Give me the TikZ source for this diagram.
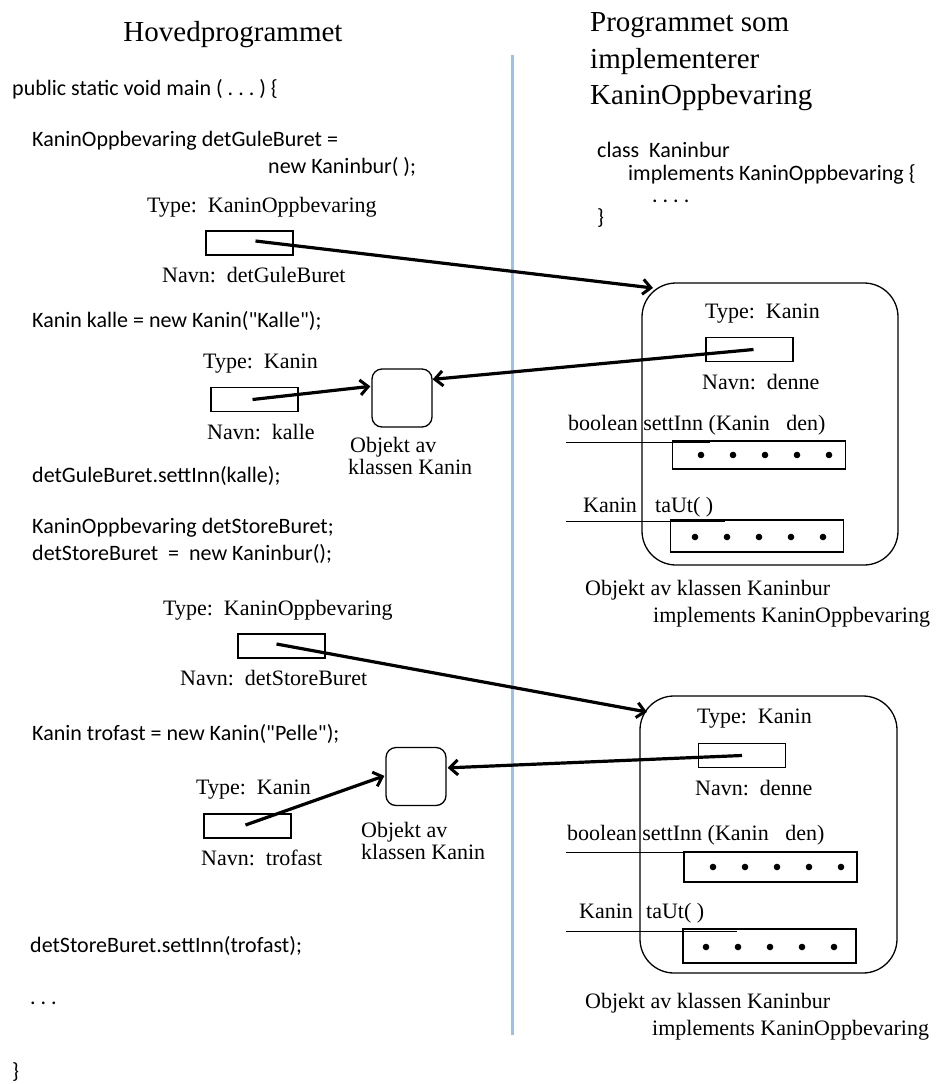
\documentclass[tikz,border=0pt]{standalone}
\usepackage{fontspec}
\setmainfont{Liberation Serif}
\newfontfamily\codefont{Carlito}
\usetikzlibrary{arrows.meta,calc}
\definecolor{divider}{RGB}{160,190,230}
\tikzset{
  code/.style={font=\codefont\frenchspacing\fontsize{22}{26}\selectfont, anchor=base west, inner sep=0pt},
  lbl/.style={font=\frenchspacing\fontsize{22}{26}\selectfont, anchor=base west, inner sep=0pt},
  head/.style={font=\fontsize{29}{35}\selectfont, anchor=base west, inner sep=0pt},
  varbox/.style={draw, line width=1.3pt, minimum width=87pt, minimum height=24pt, inner sep=0pt},
  objsq/.style={draw, line width=1.3pt, rounded corners=10pt, minimum width=60pt, minimum height=58pt, inner sep=0pt},
  objbig/.style={draw, line width=1.3pt, rounded corners=34pt, inner sep=0pt},
  methbox/.style={draw, line width=1.3pt, minimum width=173pt, inner sep=0pt},
  sigline/.style={line width=1pt},
  ref/.style={line width=3.2pt, -{Straight Barb[length=8pt,width=15pt,line width=3pt]}},
  dot/.style={fill=black},
}
\begin{document}
\begin{tikzpicture}[x=1pt,y=-1pt]
\useasboundingbox (0,0) rectangle (935,1084);
% divider
\draw[divider, line width=3pt] (512,55) -- (512,1035);
% headings
\node[head, anchor=base] (h1) at (233,41) {Hovedprogrammet};
\node[head] (h2a) at (590,31) {Programmet som};
\node[head] (h2b) at (590,68) {implementerer};
\node[head] (h2c) at (590,104) {KaninOppbevaring};
% left code
\node[code] (c1) at (12,95) {public static void main ( . . . ) \{};
\node[code] (c2) at (32,146) {KaninOppbevaring detGuleBuret =};
\node[code] (c3) at (268,173) {new Kaninbur( );};
\node[code] (c4) at (32,327) {Kanin kalle = new Kanin("Kalle");};
\node[code] (c5) at (32,482) {detGuleBuret.settInn(kalle);};
\node[code] (c6) at (32,533) {KaninOppbevaring detStoreBuret;};
\node[code] (c7) at (32,560) {detStoreBuret \ = \ new Kaninbur();};
\node[code] (c8) at (32,740) {Kanin trofast = new Kanin("Pelle");};
\node[code] (c9) at (30,952) {detStoreBuret.settInn(trofast);};
\node[code] (c10) at (30,1004) {. . .};
\node[code] (c11) at (12,1078) {\}};
% right code
\node[code] (k1) at (597,157) {class \ Kaninbur};
\node[code] (k2) at (628,180) {implements KaninOppbevaring \{};
\node[code] (k3) at (652,202) {. . . .};
\node[code] (k4) at (597,224) {\}};
% variable detGuleBuret
\node[lbl] (t1) at (147,212) {Type: \ KaninOppbevaring};
\node[varbox] (b1) at (249.5,243) {};
\node[lbl] (n1) at (162,282) {Navn: \ detGuleBuret};
% variable kalle
\node[lbl] (t2) at (203,368) {Type: \ Kanin};
\node[varbox] (b2) at (254.5,399.5) {};
\node[lbl] (n2) at (207,439) {Navn: \ kalle};
\node[objsq] (s1) at (402,398) {};
\node[lbl] (o1a) at (350,452) {Objekt av};
\node[lbl] (o1b) at (348,474) {klassen Kanin};
% variable detStoreBuret
\node[lbl] (t3) at (163,615) {Type: \ KaninOppbevaring};
\node[varbox] (b3) at (281.5,646) {};
\node[lbl] (n3) at (180,685) {Navn: \ detStoreBuret};
% variable trofast
\node[lbl] (t4) at (196,794) {Type: \ Kanin};
\node[varbox] (b4) at (247.5,826) {};
\node[lbl] (n4) at (201,865) {Navn: \ trofast};
\node[objsq] (s2) at (416,776.5) {};
\node[lbl] (o2a) at (361,837) {Objekt av};
\node[lbl] (o2b) at (361,859) {klassen Kanin};
% Kaninbur object 1
\node[objbig, minimum width=256pt, minimum height=282pt] (r1) at (770,424) {};
\node[lbl] (rt1) at (705,318) {Type: \ Kanin};
\node[varbox] (d1) at (749.5,349.5) {};
\node[lbl] (rn1) at (702,389) {Navn: \ denne};
\node[lbl] (m1a) at (568,430) {boolean settInn (Kanin \ \ den)};
\node[methbox, minimum height=28pt] (mb1) at (759,455) {};
\coordinate (l1s) at (566,442);
\coordinate (l1e) at (710,442);
\draw[sigline] (l1s) -- (l1e);
\node[lbl] (m1b) at (583,512) {Kanin};
\node[lbl] (m1c) at (655,512) {taUt( )};
\node[methbox, minimum height=32pt] (mb2) at (757,536) {};
\coordinate (l2s) at (566,521);
\coordinate (l2e) at (725,521);
\draw[sigline] (l2s) -- (l2e);
\foreach \i in {0,...,4} {
  \fill[dot] (701+32*\i,455) circle (3.3pt);
  \fill[dot] (695+32*\i,537) circle (3.3pt);
}
\node[lbl] (ok1) at (585,595) {Objekt av klassen Kaninbur};
\node[lbl] (ok2) at (653,622) {implements KaninOppbevaring};
% Kaninbur object 2
\node[objbig, minimum width=257pt, minimum height=277pt] (r2) at (768.5,834.5) {};
\node[lbl] (rt2) at (697,723) {Type: \ Kanin};
\node[varbox] (d2) at (742,755.5) {};
\node[lbl] (rn2) at (695,795) {Navn: \ denne};
\node[lbl] (m2a) at (567,840) {boolean settInn (Kanin \ \ den)};
\node[methbox, minimum height=30pt] (mb3) at (770.5,867) {};
\coordinate (l3s) at (566,852);
\coordinate (l3e) at (723,852);
\draw[sigline] (l3s) -- (l3e);
\node[lbl] (m2b) at (579,918) {Kanin};
\node[lbl] (m2c) at (646,918) {taUt( )};
\node[methbox, minimum height=34pt] (mb4) at (769.5,946) {};
\coordinate (l4s) at (566,931);
\coordinate (l4e) at (737,931);
\draw[sigline] (l4s) -- (l4e);
\foreach \i in {0,...,4} {
  \fill[dot] (713+32*\i,867) circle (3.3pt);
  \fill[dot] (706+32*\i,947) circle (3.3pt);
}
\node[lbl] (ok3) at (585,1008) {Objekt av klassen Kaninbur};
\node[lbl] (ok4) at (652,1035) {implements KaninOppbevaring};
% reference arrows
\coordinate (a1s) at ($(b1.center)+(6,-2)$);
\coordinate (a1e) at (653,288);
\coordinate (a2s) at ($(d1.center)+(4,0)$);
\coordinate (a2e) at ($(s1.north east)+(0,11)$);
\coordinate (a3s) at ($(b2.center)+(-2,0)$);
\coordinate (a3e) at ($(s1.north west)+(-1,18)$);
\coordinate (a4s) at ($(b3.center)+(-5,-2)$);
\coordinate (a4e) at (647,712);
\coordinate (a5s) at (d2.center);
\coordinate (a5e) at ($(s2.north east)+(1,21)$);
\coordinate (a6s) at ($(b4.center)+(-2,-1)$);
\coordinate (a6e) at ($(s2.north west)+(-1,29)$);
\draw[ref] (a1s) -- (a1e);
\draw[ref] (a2s) -- (a2e);
\draw[ref] (a3s) -- (a3e);
\draw[ref] (a4s) -- (a4e);
\draw[ref] (a5s) -- (a5e);
\draw[ref] (a6s) -- (a6e);
\end{tikzpicture}
\end{document}
